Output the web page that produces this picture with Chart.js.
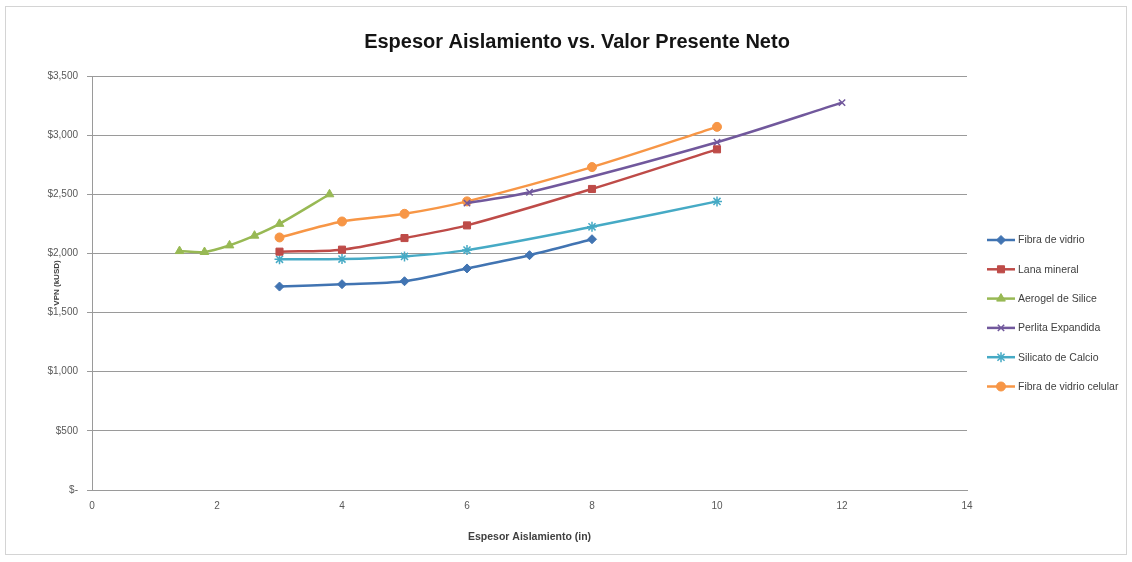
<!DOCTYPE html>
<html>
<head>
<meta charset="utf-8">
<script src="https://cdn.jsdelivr.net/npm/chart.js@4/dist/chart.umd.min.js"></script>
<style>
  html, body { margin: 0; padding: 0; background: #ffffff; }
  #wrap { width: 1132px; height: 562px; position: relative; }
</style>
</head>
<body>
<div id="wrap"><canvas id="c" width="1132" height="562"></canvas></div>
<script>
// Espesor de aislamiento (in) y VPN (kUSD) por material
const fibraX     = [3, 4, 5, 6, 7, 8];
const fibraY     = [1720, 1740, 1765, 1873, 1985, 2120];
const lanaX      = [3, 4, 5, 6, 8, 10];
const lanaY      = [2015, 2032, 2130, 2237, 2545, 2880];
const aerogelX   = [1.4, 1.8, 2.2, 2.6, 3.0, 3.8];
const aerogelY   = [2020, 2012, 2068, 2150, 2250, 2500];
const perlitaX   = [6, 7, 10, 12];
const perlitaY   = [2425, 2517, 2940, 3275];
const silicatoX  = [3, 4, 5, 6, 8, 10];
const silicatoY  = [1950, 1952, 1975, 2028, 2225, 2440];
const celularX   = [3, 4, 5, 6, 8, 10];
const celularY   = [2135, 2270, 2335, 2440, 2730, 3070];

const seriesNames = ['Fibra de vidrio', 'Lana mineral', 'Aerogel de Silice',
                     'Perlita Expandida', 'Silicato de Calcio', 'Fibra de vidrio celular'];
const xTicks = [0, 2, 4, 6, 8, 10, 12, 14];
const yTicks = [0, 500, 1000, 1500, 2000, 2500, 3000, 3500];
const chartTitle = 'Espesor Aislamiento vs. Valor Presente Neto';

const FONT = "'Liberation Sans Narrow', 'Liberation Sans', 'DejaVu Sans Condensed', sans-serif";

function pts(xs, ys) { return xs.map((x, i) => ({ x: x, y: ys[i] })); }

const styles = [
  { color: '#4174b2', point: 'rectRot', radius: 4.5 },
  { color: '#be4b48', point: 'rect', radius: 5 },
  { color: '#98b954', point: 'triangle', radius: 5 },
  { color: '#71589c', point: 'crossRot', radius: 4.5 },
  { color: '#46aac5', point: 'star', radius: 5 },
  { color: '#f79646', point: 'circle', radius: 4.5 }
];
const xs = [fibraX, lanaX, aerogelX, perlitaX, silicatoX, celularX];
const ys = [fibraY, lanaY, aerogelY, perlitaY, silicatoY, celularY];

const datasets = seriesNames.map((name, i) => ({
  label: name,
  data: pts(xs[i], ys[i]),
  showLine: true,
  tension: 0.3,
  borderColor: styles[i].color,
  backgroundColor: styles[i].color,
  borderWidth: 2.5,
  pointStyle: styles[i].point,
  pointRadius: styles[i].radius,
  pointBorderWidth: (styles[i].point === 'crossRot' || styles[i].point === 'star') ? 1.5 : 1,
  pointBackgroundColor: styles[i].color,
  pointBorderColor: styles[i].color
}));

// Marco exterior del gráfico y título centrado sobre todo el lienzo
const framePlugin = {
  id: 'frame',
  beforeDraw(chart) {
    const ctx = chart.ctx;
    ctx.save();
    ctx.fillStyle = '#ffffff';
    ctx.fillRect(0, 0, chart.width, chart.height);
    ctx.strokeStyle = '#d4d4d4';
    ctx.lineWidth = 1;
    ctx.strokeRect(5.5, 6.5, 1121, 548);
    ctx.restore();
  },
  afterDraw(chart) {
    const ctx = chart.ctx;
    ctx.save();
    ctx.fillStyle = '#141414';
    ctx.font = 'bold 20px ' + FONT;
    ctx.textAlign = 'center';
    ctx.textBaseline = 'middle';
    ctx.fillText(chartTitle, 577, 42);
    ctx.restore();
  }
};

// Leyenda a la derecha: línea corta con su marcador y el nombre de la serie
const sideLegend = {
  id: 'sideLegend',
  afterDraw(chart) {
    const ctx = chart.ctx;
    const x0 = 987, x1 = 1015, top = 240, step = 29.3;
    ctx.save();
    chart.data.datasets.forEach((ds, i) => {
      const y = top + i * step;
      ctx.strokeStyle = ds.borderColor;
      ctx.lineWidth = 2.5;
      ctx.beginPath();
      ctx.moveTo(x0, y);
      ctx.lineTo(x1, y);
      ctx.stroke();
      ctx.fillStyle = ds.pointBackgroundColor;
      ctx.strokeStyle = ds.pointBorderColor;
      ctx.lineWidth = ds.pointBorderWidth;
      Chart.helpers.drawPoint(ctx, {
        pointStyle: ds.pointStyle, rotation: 0,
        radius: ds.pointRadius, borderWidth: ds.pointBorderWidth
      }, (x0 + x1) / 2, y);
      ctx.fillStyle = '#404040';
      ctx.font = '10.5px ' + FONT;
      ctx.textAlign = 'left';
      ctx.textBaseline = 'middle';
      ctx.fillText(ds.label, x1 + 3, y + 0.5);
    });
    ctx.restore();
  }
};

new Chart(document.getElementById('c'), {
  type: 'scatter',
  data: { datasets: datasets },
  options: {
    responsive: false,
    animation: false,
    devicePixelRatio: 1,
    layout: { padding: { top: 76, left: 45, right: 165, bottom: 14 } },
    plugins: {
      legend: { display: false },
      tooltip: { enabled: false },
      title: { display: false }
    },
    scales: {
      x: {
        type: 'linear',
        min: 0, max: 14,
        afterBuildTicks(scale) { scale.ticks = xTicks.map(v => ({ value: v })); },
        ticks: {
          color: '#595959',
          font: { family: FONT, size: 10 },
          padding: 10,
          maxRotation: 0,
          callback: v => String(v)
        },
        grid: { display: false, drawTicks: false },
        border: { display: true, color: '#9a9a9a', width: 1 },
        title: {
          display: true,
          text: 'Espesor Aislamiento (in)',
          color: '#404040',
          font: { family: FONT, size: 10.5, weight: 'bold' },
          padding: { top: 4, bottom: 5 }
        },
        afterFit(scale) { scale.height = 58; }
      },
      y: {
        type: 'linear',
        min: 0, max: 3500,
        afterBuildTicks(scale) { scale.ticks = yTicks.map(v => ({ value: v })); },
        ticks: {
          color: '#595959',
          font: { family: FONT, size: 10 },
          padding: 9,
          callback: v => v === 0 ? '$-' : '$' + v.toLocaleString('en-US')
        },
        grid: {
          color: '#9a9a9a',
          lineWidth: 1,
          drawTicks: true,
          tickLength: 5
        },
        border: { display: true, color: '#9a9a9a', width: 1 },
        title: {
          display: true,
          text: 'VPN (kUSD)',
          color: '#404040',
          font: { family: FONT, size: 8, weight: 'bold' },
          padding: { top: 7, bottom: 0 }
        },
        afterFit(scale) { scale.width = 47; }
      }
    }
  },
  plugins: [framePlugin, sideLegend]
});
</script>
</body>
</html>
